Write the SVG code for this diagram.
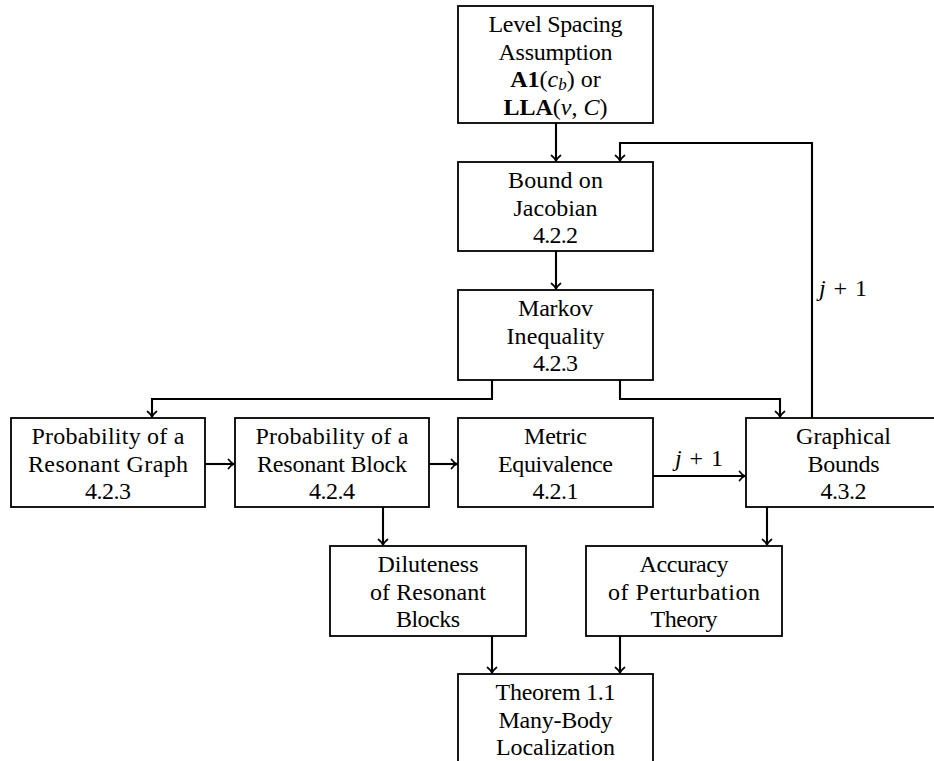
<svg xmlns="http://www.w3.org/2000/svg" width="934" height="761" viewBox="0 0 934 761">
<style>
.box{fill:#fff;stroke:#000;stroke-width:1.8}
text{font-family:"Liberation Serif","Times New Roman",serif;font-size:24px;fill:#000;text-anchor:middle}
.lbl{text-anchor:start}
.c{fill:none;stroke:#000;stroke-width:2.1;marker-end:url(#ah)}
</style>
<defs>
<marker id="ah" markerUnits="userSpaceOnUse" viewBox="-7 -6 8 12" refX="0" refY="0" markerWidth="8" markerHeight="12" orient="auto" overflow="visible">
<path d="M-5.5,-4.5 C-3.5,-1.8 -1.5,-0.6 0,0 C-1.5,0.6 -3.5,1.8 -5.5,4.5" fill="none" stroke="#000" stroke-width="1.7" stroke-linecap="round"/>
</marker>
</defs>
<rect width="934" height="761" fill="#fff"/>
<g id="connectors">
<path class="c" d="M556,123 V161"/>
<path class="c" d="M556,251 V289"/>
<path class="c" d="M492,380 V399 H152 V417"/>
<path class="c" d="M620,380 V399 H780 V417"/>
<path class="c" d="M812,418 V143 H620 V161"/>
<path class="c" d="M205,464 H234"/>
<path class="c" d="M429,464 H457"/>
<path class="c" d="M653,476 H745"/>
<path class="c" d="M383,507 V545"/>
<path class="c" d="M767,507 V545"/>
<path class="c" d="M492,636 V673"/>
<path class="c" d="M620,636 V673"/>
<text class="lbl" x="819" y="296" textLength="48"><tspan font-style="italic">j</tspan> + 1</text>
<text x="699" y="466" textLength="48"><tspan font-style="italic">j</tspan> + 1</text>
</g>
<g id="n-assumption">
<rect class="box" x="458" y="6" width="195" height="117"/>
<text x="555.5" y="32" textLength="134">Level Spacing</text>
<text x="555.5" y="59.5" textLength="114">Assumption</text>
<text x="555.5" y="87"><tspan font-weight="bold">A1</tspan>(<tspan font-style="italic">c</tspan><tspan font-style="italic" font-size="17" dy="3">b</tspan><tspan dy="-3">) or</tspan></text>
<text x="555.5" y="114.5"><tspan font-weight="bold">LLA</tspan>(<tspan font-style="italic">ν</tspan>, <tspan font-style="italic">C</tspan>)</text>
</g>
<g id="n-jacobian">
<rect class="box" x="458" y="162" width="195" height="89"/>
<text x="555.5" y="188" textLength="95">Bound on</text>
<text x="555.5" y="215.5" textLength="84">Jacobian</text>
<text x="555.5" y="243" textLength="45">4.2.2</text>
</g>
<g id="n-markov">
<rect class="box" x="458" y="290" width="195" height="90"/>
<text x="555.5" y="316" textLength="75">Markov</text>
<text x="555.5" y="343.5" textLength="98">Inequality</text>
<text x="555.5" y="371" textLength="45">4.2.3</text>
</g>
<g id="n-graph">
<rect class="box" x="11" y="418" width="194" height="89"/>
<text x="108" y="444" textLength="153">Probability of a</text>
<text x="108" y="471.5" textLength="160">Resonant Graph</text>
<text x="108" y="499" textLength="46">4.2.3</text>
</g>
<g id="n-block">
<rect class="box" x="235" y="418" width="194" height="89"/>
<text x="332" y="444" textLength="153">Probability of a</text>
<text x="332" y="471.5" textLength="150">Resonant Block</text>
<text x="332" y="499" textLength="46">4.2.4</text>
</g>
<g id="n-metric">
<rect class="box" x="458" y="418" width="195" height="89"/>
<text x="555.5" y="444" textLength="63">Metric</text>
<text x="555.5" y="471.5" textLength="115">Equivalence</text>
<text x="555.5" y="499" textLength="46">4.2.1</text>
</g>
<g id="n-graphical">
<rect class="box" x="746" y="418" width="195" height="89"/>
<text x="843.5" y="444" textLength="95">Graphical</text>
<text x="843.5" y="471.5" textLength="72">Bounds</text>
<text x="843.5" y="499" textLength="46">4.3.2</text>
</g>
<g id="n-dilute">
<rect class="box" x="330" y="546" width="196" height="90"/>
<text x="428" y="572" textLength="101">Diluteness</text>
<text x="428" y="599.5" textLength="116">of Resonant</text>
<text x="428" y="627" textLength="64">Blocks</text>
</g>
<g id="n-accuracy">
<rect class="box" x="586" y="546" width="196" height="90"/>
<text x="684" y="572" textLength="89">Accuracy</text>
<text x="684" y="599.5" textLength="152">of Perturbation</text>
<text x="684" y="627" textLength="67">Theory</text>
</g>
<g id="n-theorem">
<rect class="box" x="458" y="674" width="195" height="110"/>
<text x="555.5" y="700" textLength="120">Theorem 1.1</text>
<text x="555.5" y="727.5" textLength="114">Many-Body</text>
<text x="555.5" y="755" textLength="119">Localization</text>
</g>
</svg>
